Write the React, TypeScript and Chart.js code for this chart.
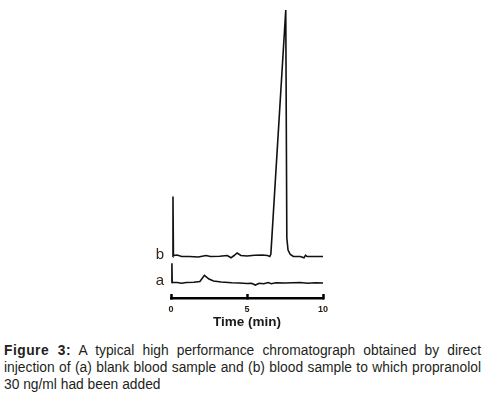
import React, { useEffect, useRef } from "react";
import { Chart, registerables } from "chart.js";

Chart.register(...registerables);

// Retention time (min) and detector signal (arbitrary units) for each trace
const timeA = [0.05, 0.06, 0.08, 0.4, 0.7, 1.0, 1.5, 1.9, 2.2, 2.5, 2.8, 3.3, 4.0, 4.5, 5.0, 5.3, 5.55, 5.8, 6.1, 6.4, 6.6, 6.9, 7.5, 8.0, 8.5, 9.0, 9.5, 10.05];
const signalA = [15.3, 34.7, 15.5, 15.5, 14.8, 15.5, 15.8, 16.5, 22.7, 19, 17, 16, 15.3, 15, 14.5, 14.8, 13, 14.8, 14.3, 15.5, 14.3, 15.3, 15, 15.3, 15.5, 14.7, 15.3, 15];

const timeB = [0.12, 0.13, 0.16, 0.4, 0.7, 1.2, 1.8, 2.3, 2.6, 3.2, 3.7, 3.95, 4.15, 4.35, 4.6, 5.0, 5.5, 6.0, 6.35, 6.5, 6.57, 7.55, 7.62, 7.7, 7.85, 8.05, 8.5, 8.75, 8.85, 8.95, 9.5, 10.05];
const signalB = [41, 101.5, 42.5, 43, 41.5, 41.5, 41, 42.5, 41.5, 41.8, 42.5, 40.2, 42.5, 45, 42.5, 42, 42.8, 43, 42.5, 41.5, 44, 288, 60, 48, 43.5, 41.5, 41.5, 40.2, 42.8, 41.5, 41.5, 41.5];

const traceLabels = ["a", "b"];
const xTicks = [0, 5, 10];
const xTitle = "Time (min)";
const captionBold = "Figure 3:";
const captionText =
  " A typical high performance chromatograph obtained by direct injection of (a) blank blood sample and (b) blood sample to which propranolol 30 ng/ml had been added";

const traceLabelPlugin = {
  id: "traceLabels",
  afterDatasetsDraw(chart: any) {
    const { ctx, chartArea, scales } = chart;
    ctx.save();
    ctx.font = '15px "Liberation Sans", Arial, sans-serif';
    ctx.fillStyle = "#3a2418";
    ctx.textAlign = "center";
    ctx.textBaseline = "middle";
    chart.data.datasets.forEach((ds: any, i: number) => {
      const base = ds.data[0].y;
      const y = scales.y.getPixelForValue(base);
      ctx.fillText(traceLabels[i], chartArea.left - 11, y - 2);
    });
    ctx.restore();
  },
};

function ChromChart() {
  const ref = useRef<HTMLCanvasElement>(null);
  useEffect(() => {
    if (!ref.current) return;
    const chart = new Chart(ref.current, {
      type: "line",
      data: {
        datasets: [
          {
            label: traceLabels[0],
            data: timeA.map((t, i) => ({ x: t, y: signalA[i] })),
            borderColor: "#111",
            borderWidth: 1.6,
            pointRadius: 0,
            tension: 0,
          },
          {
            label: traceLabels[1],
            data: timeB.map((t, i) => ({ x: t, y: signalB[i] })),
            borderColor: "#111",
            borderWidth: 1.6,
            pointRadius: 0,
            tension: 0,
          },
        ],
      },
      options: {
        animation: false,
        responsive: false,
        events: [],
        layout: { padding: { left: 31, right: 17, top: 8, bottom: 10 } },
        plugins: { legend: { display: false }, tooltip: { enabled: false } },
        scales: {
          x: {
            type: "linear",
            min: 0,
            max: 10,
            afterFit: (scale: any) => {
              scale.height = 32;
            },
            afterBuildTicks: (scale: any) => {
              scale.ticks = xTicks.map((v) => ({ value: v }));
            },
            border: { display: true, color: "#000", width: 2.5 },
            grid: {
              display: true,
              drawOnChartArea: false,
              drawTicks: true,
              tickLength: -4,
              tickWidth: 2.5,
              tickColor: "#000",
            },
            ticks: {
              color: "#2a1a10",
              padding: 10,
              maxRotation: 0,
              font: { family: '"Liberation Sans", Arial, sans-serif', size: 9, weight: "bold" },
            },
            title: {
              display: true,
              text: xTitle,
              color: "#1a1a1a",
              padding: { top: 0, bottom: 0 },
              font: { family: '"Liberation Sans", Arial, sans-serif', size: 13.5, weight: "bold" },
            },
          },
          y: {
            display: false,
            min: 0,
            max: 290,
          },
        },
      },
      plugins: [traceLabelPlugin],
    } as any);
    return () => chart.destroy();
  }, []);
  return (
    <canvas
      ref={ref}
      width={200}
      height={340}
      style={{ position: "absolute", left: 140, top: 0, width: 200, height: 340 }}
    />
  );
}

export default function App() {
  return (
    <div
      style={{
        position: "fixed",
        left: 0,
        top: 0,
        width: 484,
        height: 396,
        background: "#fff",
        overflow: "hidden",
      }}
    >
      <ChromChart />
      <div
        style={{
          position: "absolute",
          left: 4,
          top: 342,
          width: 477,
          fontFamily: '"Liberation Sans", Arial, sans-serif',
          fontSize: 13.8,
          lineHeight: "17px",
          textAlign: "justify",
          color: "#231f20",
        }}
      >
        <b style={{ letterSpacing: 0.5 }}>{captionBold}</b>
        {captionText}
      </div>
    </div>
  );
}
